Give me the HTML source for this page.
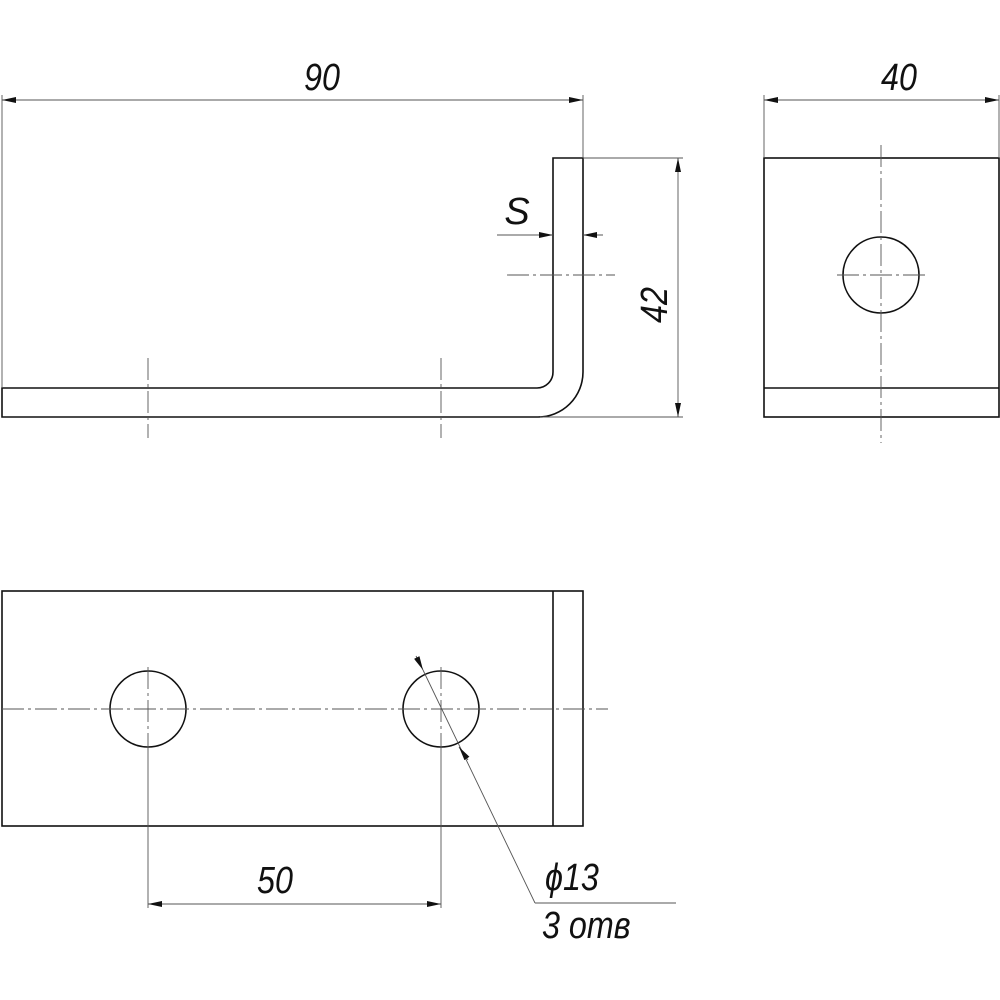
<!DOCTYPE html>
<html><head><meta charset="utf-8"><style>
html,body{margin:0;padding:0;background:#fff;}
svg{display:block;}
text{font-family:"Liberation Sans",sans-serif;font-style:italic;fill:#111;}
</style></head><body>
<svg width="1000" height="1000" viewBox="0 0 1000 1000" xmlns="http://www.w3.org/2000/svg">
<defs>
<marker id="a" viewBox="0 0 14 6" refX="14" refY="3" markerWidth="14" markerHeight="6" markerUnits="userSpaceOnUse" orient="auto-start-reverse"><path d="M0,0 L14,3 L0,6 Z" fill="#111"/></marker>
</defs>
<g fill="none" stroke="#111" stroke-width="1.6">
<!-- side view L -->
<path d="M2,388 H537 A16,16 0 0 0 553,372 V158 H583 V372 A45,45 0 0 1 538,417 H2 Z"/>
<!-- right view -->
<rect x="764" y="158" width="235" height="259"/>
<line x1="764" y1="388" x2="999" y2="388"/>
<circle cx="881" cy="275" r="38"/>
<!-- bottom view -->
<rect x="2" y="591" width="581" height="235"/>
<line x1="553" y1="591" x2="553" y2="826"/>
<circle cx="148" cy="709" r="38"/>
<circle cx="441" cy="709" r="38"/>
</g>
<g fill="none" stroke="#555" stroke-width="0.9">
<!-- extension lines -->
<line x1="2" y1="95" x2="2" y2="388"/>
<line x1="583" y1="95" x2="583" y2="158"/>
<line x1="583" y1="158" x2="683" y2="158"/>
<line x1="540" y1="417" x2="683" y2="417"/>
<line x1="764" y1="95" x2="764" y2="158"/>
<line x1="999" y1="95" x2="999" y2="158"/>
<line x1="148" y1="740" x2="148" y2="908"/>
<line x1="441" y1="740" x2="441" y2="908"/>
<!-- dims -->
<line x1="2" y1="100" x2="583" y2="100" marker-start="url(#a)" marker-end="url(#a)"/>
<line x1="764" y1="100" x2="999" y2="100" marker-start="url(#a)" marker-end="url(#a)"/>
<line x1="678" y1="158" x2="678" y2="417" marker-start="url(#a)" marker-end="url(#a)"/>
<line x1="148" y1="904" x2="441" y2="904" marker-start="url(#a)" marker-end="url(#a)"/>
<line x1="497" y1="235" x2="553" y2="235" marker-end="url(#a)"/>
<line x1="603" y1="235" x2="583" y2="235" marker-end="url(#a)"/>
<!-- leader -->
<line x1="416" y1="656" x2="423" y2="670" marker-end="url(#a)"/>
<line x1="423" y1="670" x2="535" y2="903"/>
<line x1="468" y1="760" x2="459" y2="747" marker-end="url(#a)"/>
<line x1="535" y1="903" x2="676" y2="903"/>
</g>
<g fill="none" stroke="#555" stroke-width="0.9" stroke-dasharray="22,4,3,4">
<line x1="148" y1="358" x2="148" y2="438"/>
<line x1="441" y1="358" x2="441" y2="438"/>
<line x1="507" y1="275" x2="615" y2="275"/>
<line x1="881" y1="145" x2="881" y2="443"/>
<line x1="837" y1="275" x2="926" y2="275"/>
<line x1="2" y1="709" x2="608" y2="709"/>
<line x1="148" y1="667" x2="148" y2="740"/>
<line x1="441" y1="667" x2="441" y2="740"/>
</g>
<g font-size="38">
<text x="322" y="90" text-anchor="middle" transform="translate(322 0) scale(0.85 1) translate(-322 0)">90</text>
<text x="899" y="90" text-anchor="middle" transform="translate(899 0) scale(0.85 1) translate(-899 0)">40</text>
<text x="275" y="893" text-anchor="middle" transform="translate(275 0) scale(0.85 1) translate(-275 0)">50</text>
<text x="517" y="224" text-anchor="middle">S</text>
<text transform="translate(667 305) rotate(-90) scale(0.85 1)" text-anchor="middle">42</text>
<text x="545" y="890" transform="translate(545 0) scale(0.85 1) translate(-545 0)">ϕ13</text>
<text x="542" y="938" transform="translate(542 0) scale(0.85 1) translate(-542 0)">3 отв</text>
</g>
</svg>
</body></html>
